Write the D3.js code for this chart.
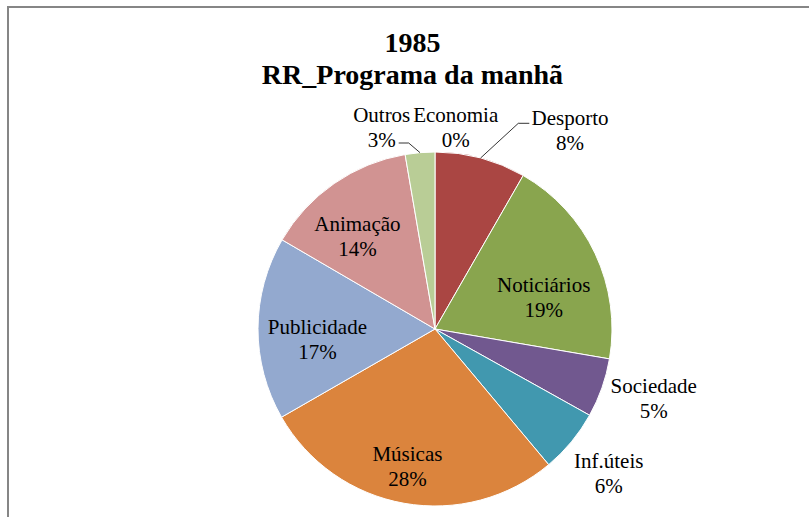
<!DOCTYPE html>
<html>
<head>
<meta charset="utf-8">
<script src="https://cdn.jsdelivr.net/npm/d3@7"></script>
<style>
  html, body { margin: 0; padding: 0; background: #fff; }
  svg { display: block; }
  text { font-family: "Liberation Serif", "Times New Roman", serif; fill: #000; }
</style>
</head>
<body>
<svg id="chart" width="809" height="517"></svg>
<script>
// ---- data ----
const titleLines = ["1985", "RR_Programa da manhã"];
const categories = ["Economia", "Desporto", "Noticiários", "Sociedade", "Inf.úteis", "Músicas", "Publicidade", "Animação", "Outros"];
const values = [0, 8.3, 19.4, 5.4, 5.8, 27.8, 16.7, 13.9, 2.7];
const colors = ["#4572A7", "#AA4643", "#89A54E", "#71588F", "#4198AF", "#DB843D", "#93A9CF", "#D19392", "#B9CD96"];

// ---- layout (label block centres relative to pie centre) ----
const labelOffsets = {
  "Economia": [20.7, -201.8],
  "Desporto": [135, -198.5],
  "Noticiários": [108.7, -31.8],
  "Sociedade": [218.7, 69.7],
  "Inf.úteis": [173.7, 144.2],
  "Músicas": [-27.6, 137.7],
  "Publicidade": [-117.6, 10.7],
  "Animação": [-77.6, -92.8],
  "Outros": [-53.3, -201.8]
};
// leader lines: start point relative to label block centre, elbow horizontal length
const leaders = {
  "Outros": { start: [17, 15.8], elbow: 10 },
  "Desporto": { start: [-40.7, -7.2], elbow: -11 }
};

const W = 809, H = 517;
const cx = 435, cy = 329, R = 177;
const svg = d3.select("#chart");

svg.append("rect").attr("width", W).attr("height", H).attr("fill", "#fff");
svg.append("rect")
  .attr("x", 8).attr("y", 7)
  .attr("width", W + 20).attr("height", H + 20)
  .attr("fill", "#fff")
  .attr("stroke", "#868686").attr("stroke-width", 2);

// title
const title = svg.append("text")
  .attr("text-anchor", "middle")
  .style("font-weight", "bold")
  .style("font-size", "28px");
titleLines.forEach((t, i) => {
  title.append("tspan").attr("x", 412.5).attr("y", 52 + i * 32).text(t);
});

const data = categories.map((c, i) => ({ name: c, value: values[i], color: colors[i] }));
const pie = d3.pie().sort(null).value(d => d.value).startAngle(0).endAngle(2 * Math.PI);
const arcs = pie(data);
const arc = d3.arc().innerRadius(0).outerRadius(R);
const edgeArc = d3.arc().innerRadius(R).outerRadius(R);

const g = svg.append("g").attr("transform", `translate(${cx},${cy})`);
g.selectAll("path.slice")
  .data(arcs)
  .join("path")
  .attr("class", "slice")
  .attr("d", arc)
  .attr("fill", d => d.data.color)
  .attr("stroke", "#fff")
  .attr("stroke-width", 1);

// leader lines
arcs.filter(d => leaders[d.data.name]).forEach(d => {
  const L = leaders[d.data.name];
  const off = labelOffsets[d.data.name];
  const sx = off[0] + L.start[0], sy = off[1] + L.start[1];
  const ex = sx + L.elbow;
  const p = edgeArc.centroid(d);
  g.append("path")
    .attr("d", d3.line()([[sx, sy], [ex, sy], p]))
    .attr("fill", "none")
    .attr("stroke", "#000")
    .attr("stroke-width", 0.8);
});

// labels
const fmt = d3.format(".0f");
const lbl = g.selectAll("text.lbl")
  .data(arcs)
  .join("text")
  .attr("class", "lbl")
  .attr("text-anchor", "middle")
  .style("font-size", "21px");
lbl.each(function(d) {
  const off = labelOffsets[d.data.name];
  const t = d3.select(this);
  t.append("tspan").attr("x", off[0]).attr("y", off[1] - 12.5 + 7).text(d.data.name);
  t.append("tspan").attr("x", off[0]).attr("y", off[1] + 12.5 + 7).text(fmt(d.data.value) + "%");
});
</script>
</body>
</html>
